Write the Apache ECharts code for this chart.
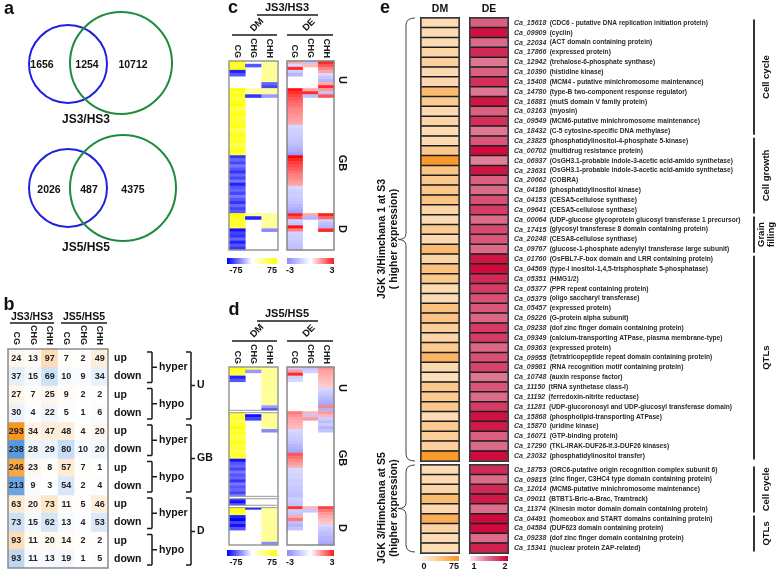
<!DOCTYPE html>
<html>
<head>
<meta charset="utf-8">
<script src="https://cdn.jsdelivr.net/npm/echarts@6/dist/echarts.min.js"></script>
<style>
html, body { margin: 0; padding: 0; background: #fff; }
#main { width: 778px; height: 572px; }
</style>
</head>
<body>
<div id="main"></div>
<script>
// ---- panel a : venn counts [left only, shared, right only]
var vennJS3 = [1656, 1254, 10712];
var vennJS5 = [2026, 487, 4375];

// ---- panel b : DMR / DEG overlap table
var bCols = ['CG', 'CHG', 'CHH', 'CG', 'CHG', 'CHH'];
var bRows = ['up', 'down', 'up', 'down', 'up', 'down', 'up', 'down', 'up', 'down', 'up', 'down'];
var bValues = [
  [24, 13, 97, 7, 2, 49],
  [37, 15, 69, 10, 9, 34],
  [27, 7, 25, 9, 2, 2],
  [30, 4, 22, 5, 1, 6],
  [293, 34, 47, 48, 4, 20],
  [238, 28, 29, 80, 10, 20],
  [246, 23, 8, 57, 7, 1],
  [213, 9, 3, 54, 2, 4],
  [63, 20, 73, 11, 5, 46],
  [73, 15, 62, 13, 4, 53],
  [93, 11, 20, 14, 2, 2],
  [93, 11, 13, 19, 1, 5]
];
var bPairs = ['hyper', 'hypo', 'hyper', 'hypo', 'hyper', 'hypo'];
var bRegions = ['U', 'GB', 'D'];

// ---- panel c : JS3/HS3 (rows top to bottom, null = no data)
var ctxCols = ['CG', 'CHG', 'CHH'];
var cDM_CG = [70, 60, 70, -65, -50, null, null, null, null,
  75, 60, 70, 55, 65, 75, 50, 60, 70, 55, 65, 60, 70, 50, 60, 70, 55, 65, 50, 60, 70, 55,
  -60, -45, -55, -40, -50, -60, -45, -55, -40, -65, -50, -45, -55, -40, -50, -60, -45, -55, -50,
  75, 70, 60, 65, 55,
  -70, -55, -60, -45, -65, -50, -60];
var cDM_CHG = [null, -50, null, null, null, null, null, null, null, 30, 30, -60,
  null, null, null, null, null, null, null, null, null, null, null, null, null, null, null, null, null, null, null,
  null, null, null, null, null, null, null, null, null, null, null, null, null, null, null, null, null, null, null,
  30, -65, null, null, null, null, null, null, null, null, null, null];
var cDM_CHH = [30, 30, 30, 30, 30, 30, 30, -45, -55, 30, 30, -30,
  null, null, null, null, null, null, null, null, null, null, null, null, null, null, null, null, null, null, null,
  null, null, null, null, null, null, null, null, null, null, null, null, null, null, null, null, null, null, null,
  30, 30, 30, 30, 30, -35, null, null, null, null, null, null];
var cDE_CG = [1.0, -0.8, 2.5, -1.0, -1.5, null, null, null, null,
  2.8, 2.5, 2.2, 2.0, 1.8, 1.7, 1.5, 1.4, 1.3, 1.2, 1.1, 1.0,
  -0.8, -0.9, -1.0, -1.0, -1.1, -1.2, -1.3, -1.5, -1.7, -2.0,
  3.0, 2.6, 2.3, 2.1, 1.9, 1.7, 1.5, 1.4, 1.2, 1.1,
  -0.8, -0.9, -1.0, -1.0, -1.1, -1.2, -1.4, -1.6, -1.9,
  2.6, 2.0, -1.0, -1.2, 2.8, 1.5,
  -0.9, -1.0, -1.0, -1.1, -1.2, -1.3];
var cDE_CHG = [-1.2, 0.8, null, null, null, null, null, null, null, 1.0, 2.5, -1.3,
  null, null, null, null, null, null, null, null, null, null, null, null, null, null, null, null, null, null, null,
  null, null, null, null, null, null, null, null, null, null, null, null, null, null, null, null, null, null, null,
  1.0, -1.5, null, null, null, null, null, null, null, null, null, null];
var cDE_CHH = [2.6, 2.0, 1.5, 1.1, -0.8, -1.1, -1.5, 1.0, 2.5, 1.2, -1.2, 2.0,
  null, null, null, null, null, null, null, null, null, null, null, null, null, null, null, null, null, null, null,
  null, null, null, null, null, null, null, null, null, null, null, null, null, null, null, null, null, null, null,
  2.6, 1.8, -1.0, -1.3, -1.5, 2.5, null, null, null, null, null, null];

// ---- panel d : JS5/HS5
var dDM_CG = [75, 60, 50, -65, -50, null, null, null, null, null, null, null, null, null, null,
  70, 55, 65, 50, 60, 75, 55, 65, 50, 60, 70, 55, 60, 50, 65, 55,
  -70, -50, -45, -55, -40, -50, -45, -60, -40, -50, -45, -55, -40,
  -60, -70, -55,
  75, 70, 60, -65, -75, -55, -70, -50, null, null, null, null, null];
var dDM_CHG = [55, -30, null, null, null, null, null, null, null, null, null, null, null, null, null,
  null, -70, -55, null, null, null, null, null, null, null, null, null, null, null, null, null,
  null, null, null, null, null, null, null, null, null, null, null, null, null,
  null, null, null,
  -65, null, null, null, null, null, null, null, null, null, null, null, null];
var dDM_CHH = [30, 30, 30, 30, 30, 30, 30, 30, 30, 30, 30, 30, 30, -30, -55,
  35, 30, 30, 35, 30, 30, -35, null, null, null, null, null, null, null, null, null,
  null, null, null, null, null, null, null, null, null, null, null, null, null,
  null, null, null,
  30, 30, 30, 30, 30, 30, 30, 30, 30, 30, 30, 30, -35];
var dDE_CG = [-1.0, 1.2, 2.5, -1.0, -0.8, null, null, null, null, null, null, null, null, null, null,
  1.6, 1.3, 1.1, 1.0, 0.9, 0.8,
  -0.8, -0.9, -1.0, -1.1, -1.2, -1.4, -1.6, -1.8,
  2.0, 1.7, 1.4, 1.2, 1.0,
  -0.8, -0.8, -0.9, -0.9, -1.0, -1.0, -1.1, -1.1, -1.2, -1.3,
  -1.0, -1.1, -1.2,
  2.4, -1.0, -1.2, 1.0, 1.6, -1.3, -1.5, -1.2, null, null, null, null, null];
var dDE_CHG = [-1.2, -0.9, null, null, null, null, null, null, null, null, null, null, null, null, null,
  0.9, -1.2, 1.2, null, null, null, null, null, null, null, null, null, null, null, null, null,
  null, null, null, null, null, null, null, null, null, null, null, null, null,
  null, null, null,
  0.9, -1.1, null, null, null, null, null, null, null, null, null, null, null];
var dDE_CHH = [1.3, 1.1, 1.0, 0.9, 0.8, 0.7, 0.6, -0.8, -1.0, -1.2, -1.4, -1.6, -1.8, 1.5, -1.6,
  1.2, 0.9, -1.0, -1.3, -1.0, -1.5, -1.2, null, null, null, null, null, null, null, null, null,
  null, null, null, null, null, null, null, null, null, null, null, null, null,
  null, null, null,
  2.2, 1.6, 1.2, 1.0, 0.8, 0.7, -0.8, -1.0, -1.2, -1.3, -1.5, -1.6, -1.8];

// ---- panel e : genes higher expressed in JGK 3
var eTopIds = ['Ca_15618', 'Ca_09909', 'Ca_22034', 'Ca_17866', 'Ca_12942', 'Ca_10390', 'Ca_15408', 'Ca_14780',
  'Ca_16881', 'Ca_03163', 'Ca_09549', 'Ca_18432', 'Ca_23825', 'Ca_00702', 'Ca_06937', 'Ca_23631', 'Ca_20662',
  'Ca_04186', 'Ca_04153', 'Ca_09641', 'Ca_00064', 'Ca_17415', 'Ca_20248', 'Ca_09767', 'Ca_01760', 'Ca_04569',
  'Ca_05351', 'Ca_05377', 'Ca_05379', 'Ca_05457', 'Ca_09226', 'Ca_09238', 'Ca_09349', 'Ca_09363', 'Ca_09955',
  'Ca_09981', 'Ca_10748', 'Ca_11150', 'Ca_11192', 'Ca_11281', 'Ca_15868', 'Ca_15870', 'Ca_16071', 'Ca_17290',
  'Ca_23032'];
var eTopDesc = ['CDC6 - putative DNA replication initiation protein', 'cyclin', 'ACT domain containing protein',
  'expressed protein', 'trehalose-6-phosphate synthase', 'histidine kinase',
  'MCM4 - putative minichromosome maintenance', 'type-B two-component response regulator',
  'mutS domain V family protein', 'myosin', 'MCM6-putative minichromosome maintenance',
  'C-5 cytosine-specific DNA methylase', 'phosphatidylinositol-4-phosphate 5-kinase', 'multidrug resistance protein',
  'OsGH3.1-probable indole-3-acetic acid-amido synthetase', 'OsGH3.1-probable indole-3-acetic acid-amido synthetase',
  'COBRA', 'phosphatidylinositol kinase', 'CESA5-cellulose synthase', 'CESA5-cellulose synthase',
  'UDP-glucose glycoprotein glucosyl transferase 1 precursor', 'glycosyl transferase 8 domain containing protein',
  'CESA8-cellulose synthase', 'glucose-1-phosphate adenylyl transferase large subunit',
  'OsFBL7-F-box domain and LRR containing protein', 'type-I inositol-1,4,5-trisphosphate 5-phosphatase',
  'HMG1/2', 'PPR repeat containing protein', 'oligo saccharyl transferase', 'expressed protein',
  'G-protein alpha subunit', 'dof zinc finger domain containing protein',
  'calcium-transporting ATPase, plasma membrane-type', 'expressed protein',
  'tetratricopeptide repeat domain containing protein', 'RNA recognition motif containing protein',
  'auxin response factor', 'tRNA synthetase class-I', 'ferredoxin-nitrite reductase',
  'UDP-glucoronosyl and UDP-glucosyl transferase domain', 'phospholipid-transporting ATPase', 'uridine kinase',
  'GTP-binding protein', 'TKL-IRAK-DUF26-lf.3-DUF26 kinases', 'phosphatidylinositol transfer'];
var eTopDM = [20, 20, 20, 25, 30, 22, 22, 45, 33, 22, 25, 20, 22, 35, 70, 38, 35, 35, 38,
  25, 20, 33, 22, 45, 25, 40, 35, 22, 20, 40, 38, 30, 25, 33, 50, 22, 18, 35, 33, 35, 20, 33, 30, 28, 70];
var eTopDE = [1.55, 1.92, 1.5, 1.8, 1.45, 1.55, 1.78, 1.45, 1.9, 1.55, 1.78, 1.45, 1.6, 1.95, 1.42, 1.9, 1.55, 1.5, 1.62,
  1.72, 1.5, 1.65, 1.6, 1.5, 1.9, 1.95, 1.8, 1.72, 1.62, 1.6, 1.52, 1.72, 1.72, 1.52, 1.62, 1.68, 1.45, 1.6, 1.5,
  1.72, 1.92, 1.88, 1.55, 1.5, 1.95];
var eTopGroups = ['Cell cycle', 'Cell growth', 'Grain\nfilling', 'QTLs'];
var eTopGroupSizes = [12, 8, 4, 21];

var eBotIds = ['Ca_18753', 'Ca_09815', 'Ca_12014', 'Ca_09011', 'Ca_11374', 'Ca_04491', 'Ca_04584', 'Ca_09238', 'Ca_15341'];
var eBotDesc = ['ORC6-putative origin recognition complex subunit 6', 'zinc finger, C3HC4 type domain containing protein',
  'MCM8-putative minichromosome maintenance', 'BTBT1-Bric-a-Brac, Tramtrack',
  'Kinesin motor domain domain containing protein', 'homeobox and START domains containing protein',
  'DUF623 domain containing protein', 'dof zinc finger domain containing protein', 'nuclear protein ZAP-related'];
var eBotDM = [20, 22, 25, 45, 22, 55, 25, 20, 20];
var eBotDE = [1.8, 1.5, 1.8, 1.88, 1.48, 1.95, 1.95, 1.5, 1.85];
var eBotGroups = ['Cell cycle', 'QTLs'];
var eBotGroupSizes = [5, 4];

var FONT = '"Liberation Sans", Arial, sans-serif';
function font(size, weight, style) {
  return (style || 'normal') + ' ' + (weight || 'bold') + ' ' + size + 'px ' + FONT;
}

// grids (left, top, width, height)
var grids = [
  [8, 349, 100, 219],     // b
  [229, 61, 49, 189],     // c DM
  [287, 61, 47, 189],     // c DE
  [229, 367, 49, 178],    // d DM
  [287, 367, 47, 178],    // d DE
  [421, 18, 38, 443],     // e top DM
  [470, 18, 38, 443],     // e top DE
  [421, 465, 38, 88],     // e bottom DM
  [470, 465, 38, 88]      // e bottom DE
];

function rowCats(n) { var a = []; for (var i = 0; i < n; i++) a.push(i); return a; }
function cells(cols) {
  var out = [];
  cols.forEach(function (col, ci) {
    col.forEach(function (v, ri) { if (v !== null) out.push([ci, ri, v]); });
  });
  return out;
}

var bUp = [], bDown = [];
bValues.forEach(function (row, r) {
  row.forEach(function (v, c) { (r % 2 === 0 ? bUp : bDown).push([c, r, v]); });
});

var hidden = { show: false };
var topCtxAxis = function (gi) {
  return {
    gridIndex: gi, type: 'category', data: ctxCols, position: 'top',
    axisLine: hidden, axisTick: hidden, splitLine: hidden,
    axisLabel: { rotate: 90, margin: 3, fontSize: 9, fontWeight: 'bold', fontFamily: FONT, color: '#222', interval: 0 }
  };
};
var rowAxis = function (gi, n) {
  return { gridIndex: gi, type: 'category', data: rowCats(n), inverse: true, show: false };
};
var eLabel = function (desc) {
  return {
    fontFamily: FONT, margin: 6, interval: 0,
    formatter: function (v, i) { return '{id|' + v + '} {d|(' + desc[i] + ')}'; },
    rich: {
      id: { fontSize: 7, fontStyle: 'italic', fontWeight: 'bold', color: '#333', fontFamily: FONT },
      d: { fontSize: 6.6, fontWeight: 'bold', color: '#2a2a2a', fontFamily: FONT }
    }
  };
};

var xAxes = [
  { gridIndex: 0, type: 'category', data: bCols, position: 'top', axisLine: hidden, axisTick: hidden,
    axisLabel: { rotate: 90, margin: 4, fontSize: 9, fontWeight: 'bold', fontFamily: FONT, color: '#222', interval: 0 } },
  topCtxAxis(1), topCtxAxis(2), topCtxAxis(3), topCtxAxis(4),
  { gridIndex: 5, type: 'category', data: ['DM'], position: 'top', axisLine: hidden, axisTick: hidden,
    axisLabel: { margin: 3, fontSize: 10.5, fontWeight: 'bold', fontFamily: FONT, color: '#111' } },
  { gridIndex: 6, type: 'category', data: ['DE'], position: 'top', axisLine: hidden, axisTick: hidden,
    axisLabel: { margin: 3, fontSize: 10.5, fontWeight: 'bold', fontFamily: FONT, color: '#111' } },
  { gridIndex: 7, type: 'category', data: ['DM'], show: false },
  { gridIndex: 8, type: 'category', data: ['DE'], show: false }
];
var yAxes = [
  { gridIndex: 0, type: 'category', data: bRows, inverse: true, position: 'right', axisLine: hidden, axisTick: hidden,
    axisLabel: { margin: 6, fontSize: 10.5, fontWeight: 'bold', fontFamily: FONT, color: '#111', interval: 0 } },
  rowAxis(1, cDM_CG.length), rowAxis(2, cDE_CG.length),
  rowAxis(3, dDM_CG.length), rowAxis(4, dDE_CG.length),
  { gridIndex: 5, type: 'category', data: eTopIds, inverse: true, show: false },
  { gridIndex: 6, type: 'category', data: eTopIds, inverse: true, position: 'right',
    axisLine: hidden, axisTick: hidden, axisLabel: eLabel(eTopDesc) },
  { gridIndex: 7, type: 'category', data: eBotIds, inverse: true, show: false },
  { gridIndex: 8, type: 'category', data: eBotIds, inverse: true, position: 'right',
    axisLine: hidden, axisTick: hidden, axisLabel: eLabel(eBotDesc) }
];

function heat(gi, data, extra) {
  var s = { type: 'heatmap', xAxisIndex: gi, yAxisIndex: gi, data: data, emphasis: { disabled: true }, progressive: 0 };
  for (var k in extra) s[k] = extra[k];
  return s;
}
var bLabel = { show: true, formatter: function (p) { return p.value[2]; }, fontSize: 9, fontWeight: 'bold', fontFamily: FONT, color: '#222' };
var eCell = { borderColor: '#1e1e1e', borderWidth: 1.5 };
var series = [
  heat(0, bUp, { label: bLabel }),
  heat(0, bDown, { label: bLabel }),
  heat(1, cells([cDM_CG, cDM_CHG, cDM_CHH])),
  heat(2, cells([cDE_CG, cDE_CHG, cDE_CHH])),
  heat(3, cells([dDM_CG, dDM_CHG, dDM_CHH])),
  heat(4, cells([dDE_CG, dDE_CHG, dDE_CHH])),
  heat(5, eTopDM.map(function (v, i) { return [0, i, v]; }), { itemStyle: eCell }),
  heat(6, eTopDE.map(function (v, i) { return [0, i, v]; }), { itemStyle: eCell }),
  heat(7, eBotDM.map(function (v, i) { return [0, i, v]; }), { itemStyle: eCell }),
  heat(8, eBotDE.map(function (v, i) { return [0, i, v]; }), { itemStyle: eCell })
];

var visualMaps = [
  { show: false, seriesIndex: 0, dimension: 2, min: 0, max: 300, inRange: { color: ['#ffffff', '#f5951c'] } },
  { show: false, seriesIndex: 1, dimension: 2, min: 0, max: 300, inRange: { color: ['#ffffff', '#2c80d8'] } },
  { show: false, seriesIndex: [2, 4], dimension: 2, min: -75, max: 75, inRange: { color: ['#0000ff', '#ffffff', '#ffff00'] } },
  { show: false, seriesIndex: [3, 5], dimension: 2, min: -3, max: 3, inRange: { color: ['#6a6aff', '#ffffff', '#ff0000'] } },
  { show: false, seriesIndex: [6, 8], dimension: 2, min: 0, max: 75, inRange: { color: ['#fff6ec', '#f7931e'] } },
  { show: false, seriesIndex: [7, 9], dimension: 2, min: 1, max: 2, inRange: { color: ['#fbe9ef', '#dc6a8a', '#cc0033'] } }
];

// ---- annotations
var g = [];
function T(x, y, s, o) {
  o = o || {};
  g.push({ type: 'text', x: x, y: y, rotation: o.rot || 0, z: 100,
    style: { text: s, font: font(o.size || 10, o.w, o.st), fill: o.color || '#111',
      align: o.align || 'center', verticalAlign: 'middle', textAlign: o.align || 'center', textVerticalAlign: 'middle' } });
}
function L(x1, y1, x2, y2, w, c) {
  g.push({ type: 'line', z: 100, shape: { x1: x1, y1: y1, x2: x2, y2: y2 }, style: { stroke: c || '#1a1a1a', lineWidth: w || 1.5 } });
}
function R(x, y, w, h, c, lw, fill) {
  g.push({ type: 'rect', z: 100, shape: { x: x, y: y, width: w, height: h }, style: { fill: fill || 'none', stroke: c, lineWidth: lw } });
}
function C(cx, cy, r, c) {
  g.push({ type: 'circle', z: 100, shape: { cx: cx, cy: cy, r: r }, style: { fill: 'none', stroke: c, lineWidth: 2 } });
}
function Q(x1, y1, cx, cy, x2, y2) {
  g.push({ type: 'bezierCurve', z: 100, shape: { x1: x1, y1: y1, cpx1: cx, cpy1: cy, x2: x2, y2: y2 },
    style: { fill: 'none', stroke: '#444', lineWidth: 1 } });
}
function brace(x, y1, y2) {
  var ym = (y1 + y2) / 2;
  Q(x + 9, y1, x, y1, x, y1 + 7); L(x, y1 + 7, x, ym - 6, 1, '#444');
  Q(x, ym - 6, x, ym, x - 8, ym); Q(x - 8, ym, x, ym, x, ym + 6);
  L(x, ym + 6, x, y2 - 7, 1, '#444'); Q(x, y2 - 7, x, y2, x + 9, y2);
}
function gradBar(x, y, w, h, colors) {
  var stops = colors.map(function (c, i) { return { offset: i / (colors.length - 1), color: c }; });
  g.push({ type: 'rect', z: 100, shape: { x: x, y: y, width: w, height: h },
    style: { fill: new echarts.graphic.LinearGradient(0, 0, 1, 0, stops) } });
}

// panel letters
T(9, 9, 'a', { size: 18 });
T(9, 305, 'b', { size: 18 });
T(233, 8, 'c', { size: 18 });
T(234, 310, 'd', { size: 18 });
T(385, 8, 'e', { size: 18 });

// a: venn diagrams
C(68, 64, 39, '#2020e0'); C(121, 63, 51, '#1e8c3c');
T(42, 65, String(vennJS3[0]), { size: 10.5 }); T(87, 65, String(vennJS3[1]), { size: 10.5 }); T(133, 65, String(vennJS3[2]), { size: 10.5 });
T(86, 120, 'JS3/HS3', { size: 12 });
C(68, 188, 39, '#2020e0'); C(123, 188, 53, '#1e8c3c');
T(49, 190, String(vennJS5[0]), { size: 10.5 }); T(89, 190, String(vennJS5[1]), { size: 10.5 }); T(133, 190, String(vennJS5[2]), { size: 10.5 });
T(86, 248, 'JS5/HS5', { size: 12 });

// b: headers, frame, brackets
T(32, 317, 'JS3/HS3', { size: 10.5 }); L(10, 323, 54, 323);
T(84, 317, 'JS5/HS5', { size: 10.5 }); L(61, 323, 107, 323);
R(8, 349, 100, 219, '#8a8a8a', 1.5);
var bRowH = 219 / 12;
bPairs.forEach(function (name, k) {
  var y1 = 349 + 2 * k * bRowH + 3, y2 = 349 + (2 * k + 2) * bRowH - 3, ym = (y1 + y2) / 2;
  L(147, y1, 152, y1); L(152, y1, 152, y2); L(147, y2, 152, y2); L(152, ym, 157, ym);
  T(159, ym, name, { size: 10.5, align: 'left' });
});
bRegions.forEach(function (name, k) {
  var y1 = 349 + 4 * k * bRowH + 3, y2 = 349 + (4 * k + 4) * bRowH - 3, ym = (y1 + y2) / 2;
  L(186, y1, 191, y1); L(191, y1, 191, y2); L(186, y2, 191, y2); L(191, ym, 195, ym);
  T(197, ym, name, { size: 10.5, align: 'left' });
});

// c / d headers and frames
function ctxHeader(y0, title) {
  T(287, y0, title, { size: 11 }); L(257, y0 + 7, 318, y0 + 7);
  T(257, y0 + 17, 'DM', { size: 9.5, rot: Math.PI / 4 }); T(309, y0 + 17, 'DE', { size: 9.5, rot: Math.PI / 4 });
  L(232, y0 + 27, 277, y0 + 27); L(287, y0 + 27, 333, y0 + 27);
}
ctxHeader(8, 'JS3/HS3');
ctxHeader(314, 'JS5/HS5');
R(229, 61, 49, 189, '#999', 1.5); R(287, 61, 47, 189, '#888', 1.5);
R(229, 367, 49, 178, '#999', 1.5); R(287, 367, 47, 178, '#888', 1.5);
// section breaks in panel d DM
[15, 44, 47].forEach(function (r) { R(229, 367 + r * 178 / 60 - 1.2, 49, 2.4, '#999', 1, '#fff'); });
[['U', 80], ['GB', 163], ['D', 229], ['U', 388], ['GB', 458], ['D', 528]].forEach(function (p) {
  T(342, p[1], p[0], { size: 11, rot: -Math.PI / 2 });
});
// colour keys c / d
[[258, 271], [550, 563]].forEach(function (p) {
  gradBar(227, p[0], 50, 6, ['#0000ff', '#ffffff', '#ffff00']);
  gradBar(287, p[0], 47, 6, ['#8a8aff', '#ffffff', '#ff1a1a']);
  T(236, p[1], '-75', { size: 9 }); T(272, p[1], '75', { size: 9 });
  T(290, p[1], '-3', { size: 9 }); T(332, p[1], '3', { size: 9 });
});

// e: group bars on right
function groups(names, sizes, top, rowH) {
  var y = top;
  names.forEach(function (n, i) {
    var y1 = y + 1.5, y2 = y + sizes[i] * rowH - 1.5;
    L(754, y1, 754, y2, 2, '#333');
    T(766, (y1 + y2) / 2, n, { size: 9.5, rot: Math.PI / 2 });
    y += sizes[i] * rowH;
  });
}
groups(eTopGroups, eTopGroupSizes, 18, 443 / 45);
groups(eBotGroups, eBotGroupSizes, 465, 88 / 9);
R(421, 18, 38, 443, '#555', 1); R(470, 18, 38, 443, '#555', 1);
R(421, 465, 38, 88, '#555', 1); R(470, 465, 38, 88, '#555', 1);
// e: braces on left
brace(406, 18, 461);
brace(406, 465, 552);
T(382, 239, 'JGK 3/Himchana 1 at S3', { size: 10.5, rot: Math.PI / 2 });
T(394, 239, '( higher expression)', { size: 10.5, rot: Math.PI / 2 });
T(382, 508, 'JGK 3/Himchana at S5', { size: 10.5, rot: Math.PI / 2 });
T(394, 508, '(higher expression)', { size: 10.5, rot: Math.PI / 2 });
// e: colour keys
gradBar(421, 556, 38, 5, ['#fff6ec', '#f7931e']);
gradBar(470, 556, 38, 5, ['#fbe9ef', '#dc6a8a', '#cc0033']);
T(424, 567, '0', { size: 9 }); T(454, 567, '75', { size: 9 });
T(474, 567, '1', { size: 9 }); T(505, 567, '2', { size: 9 });

var chart = echarts.init(document.getElementById('main'));
chart.setOption({
  animation: false,
  backgroundColor: '#fff',
  grid: grids.map(function (b) { return { left: b[0], top: b[1], width: b[2], height: b[3], containLabel: false }; }),
  xAxis: xAxes,
  yAxis: yAxes,
  visualMap: visualMaps,
  series: series,
  graphic: { elements: g }
});
</script>
</body>
</html>
